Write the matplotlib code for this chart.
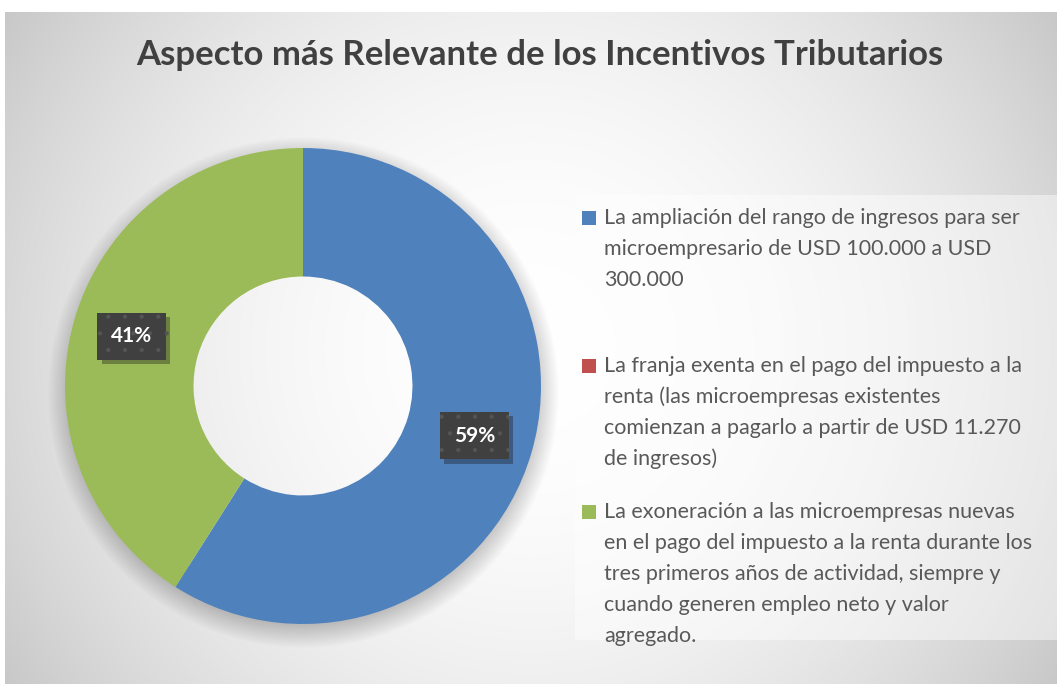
import numpy as np
import matplotlib.pyplot as plt
import matplotlib.patheffects as pe
from matplotlib.patches import Rectangle

plt.rcParams['font.family'] = ['Lato', 'DejaVu Sans']
plt.rcParams['hatch.linewidth'] = 0.6

title = "Aspecto más Relevante de los Incentivos Tributarios"
categories = [
    "La ampliación del rango de ingresos para ser\nmicroempresario de USD 100.000 a USD\n300.000",
    "La franja exenta en el pago del impuesto a la\nrenta (las microempresas existentes\ncomienzan a pagarlo a partir de USD 11.270\nde ingresos)",
    "La exoneración a las microempresas nuevas\nen el pago del impuesto a la renta durante los\ntres primeros años de actividad, siempre y\ncuando generen empleo neto y valor\nagregado.",
]
values = [59, 0, 41]
colors = ['#4F81BD', '#C0504D', '#9BBB59']

W, H = 1057, 687
fig = plt.figure(figsize=(W / 100, H / 100), dpi=100)

# background with radial gradient, pixel coords (y down)
bg = fig.add_axes([0, 0, 1, 1])
bg.axis('off')
yy, xx = np.mgrid[0:H, 0:W]
d = np.hypot(xx - 531, yy - 348) / 630
v = 1 - 0.22 * d ** 2
img = np.dstack([v, v, v])
img[:12, :] = 1
img[684:, :] = 1
img[:, :5] = 1
bg.imshow(img, extent=[0, W, H, 0], aspect='auto', interpolation='bilinear')

# soft shadow under the donut
cx, cy, R = 303, 386, 238
ds = np.hypot(xx - cx, yy - (cy + 6))
a = np.clip((R + 18 - ds) / 24, 0, 1) * (ds > R - 30) * 0.22
shadow = np.zeros((H, W, 4))
shadow[..., 3] = a
bg.imshow(shadow, extent=[0, W, H, 0], aspect='auto', interpolation='bilinear')
bg.set_xlim(0, W)
bg.set_ylim(H, 0)

# legend area
bg.add_patch(Rectangle((575, 195), 482, 445, color='white', alpha=0.45, lw=0))

bg.text(540, 55, title, ha='center', va='center', fontsize=25,
        fontweight='bold', color='#404040')

# donut
ax = fig.add_axes([(cx - R) / W, (H - cy - R) / H, 2 * R / W, 2 * R / H])
wedges, _ = ax.pie(values, colors=colors, startangle=90, counterclock=False,
                   radius=1, wedgeprops=dict(width=0.54, linewidth=0))
ax.set_xlim(-1, 1)
ax.set_ylim(-1, 1)
ax.axis('off')

total = sum(values)
for w, val in zip(wedges, values):
    if val == 0:
        continue
    ang = np.deg2rad((w.theta1 + w.theta2) / 2)
    x, y = 0.75 * np.cos(ang), 0.75 * np.sin(ang)
    t = ax.text(x, y, f"{val / total:.0%}", ha='center', va='center',
                fontsize=15, fontweight='bold', color='white',
                bbox=dict(boxstyle='square,pad=0.65', fc='#404040',
                          ec='#555555', hatch='.', lw=0))
    t.get_bbox_patch().set_path_effects(
        [pe.SimplePatchShadow(offset=(3, -3), alpha=0.35), pe.Normal()])

# legend
entry_y = [218, 366, 512]
for lab, c, y0 in zip(categories, colors, entry_y):
    bg.add_patch(Rectangle((582, y0 - 7), 14, 14, color=c, lw=0))
    for j, line in enumerate(lab.split('\n')):
        bg.text(604, y0 + 31 * j, line, ha='left', va='center',
                fontsize=15.5, color='#595959')

fig.savefig('out.png', dpi=100)
